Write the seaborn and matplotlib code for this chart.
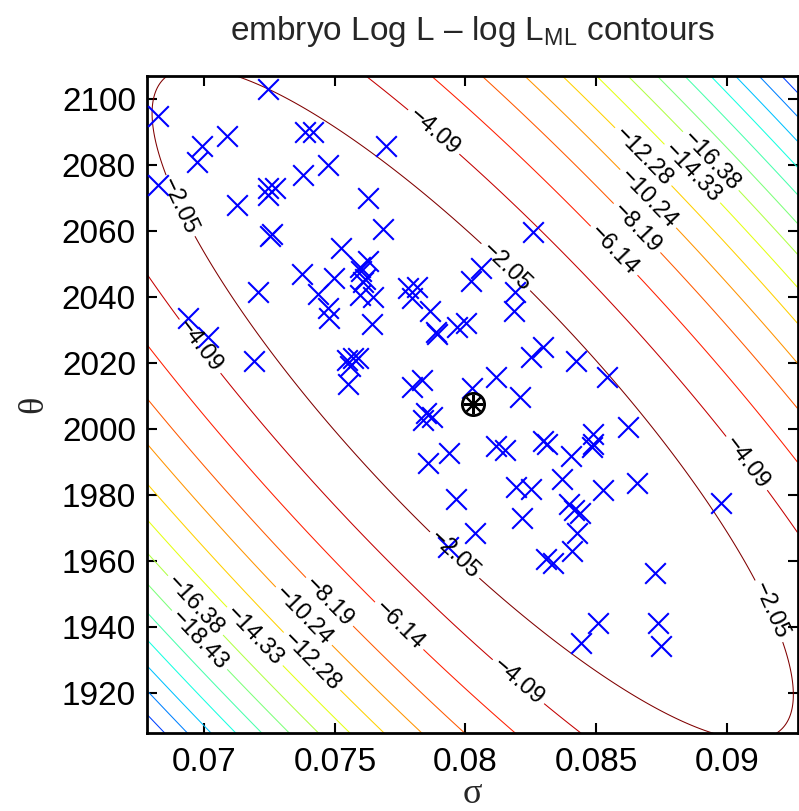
import numpy as np
import matplotlib
matplotlib.use('Agg')
import matplotlib.pyplot as plt
import seaborn as sns

sigma_pts = [0.06824, 0.07245, 0.07088, 0.06990, 0.06973, 0.07386, 0.07417, 0.07472, 0.07377, 0.06822,
             0.07245, 0.07271, 0.07243, 0.07124, 0.07258, 0.07252, 0.07523, 0.07375, 0.07497, 0.07628,
             0.07596, 0.07600, 0.07615, 0.07609, 0.07696, 0.07628, 0.07683, 0.08257, 0.08058, 0.08020,
             0.07781, 0.07814, 0.07794, 0.08190, 0.08186, 0.07207, 0.07436, 0.07596, 0.07647, 0.07472,
             0.07479, 0.06936, 0.07015, 0.07191, 0.07545, 0.07570, 0.07590, 0.07558, 0.07551, 0.07864,
             0.07641, 0.07887, 0.07890, 0.07969, 0.08002, 0.08298, 0.08250, 0.08423, 0.07832, 0.07794,
             0.08117, 0.08024, 0.08209, 0.07837, 0.07872, 0.07849, 0.08117, 0.08151, 0.08298, 0.08311,
             0.08404, 0.07938, 0.07855, 0.08368, 0.08193, 0.08251, 0.07962, 0.08396, 0.08415, 0.08216,
             0.08541, 0.08621, 0.08489, 0.08489, 0.08483, 0.08658, 0.08525, 0.08438, 0.08427, 0.08408,
             0.08308, 0.08334, 0.08036, 0.07934, 0.08725, 0.08508, 0.08736, 0.08442, 0.08749, 0.08977]
theta_pts = [2094.8, 2102.8, 2088.7, 2085.7, 2080.7, 2090.0, 2090.0, 2079.9, 2076.8, 2073.8,
             2072.8, 2072.8, 2070.8, 2067.8, 2059.0, 2058.4, 2054.8, 2046.8, 2045.8, 2050.9,
             2049.1, 2047.8, 2045.3, 2044.5, 2085.6, 2069.8, 2060.4, 2059.7, 2048.8, 2044.8,
             2042.7, 2042.9, 2039.5, 2041.5, 2035.8, 2041.3, 2040.8, 2040.5, 2039.8, 2036.5,
             2033.6, 2033.5, 2027.7, 2020.6, 2020.9, 2021.4, 2021.4, 2019.1, 2013.5, 2035.7,
             2031.7, 2029.4, 2028.6, 2031.0, 2032.0, 2024.7, 2021.7, 2020.7, 2014.8, 2012.6,
             2015.6, 2012.3, 2009.8, 2002.7, 2003.6, 2004.8, 1994.9, 1993.6, 1996.5, 1995.5,
             1991.8, 1992.6, 1989.6, 1984.8, 1982.5, 1981.8, 1978.7, 1977.3, 1975.5, 1973.1,
             2015.6, 2000.7, 1998.5, 1995.5, 1994.6, 1983.6, 1981.5, 1974.6, 1968.5, 1963.1,
             1960.6, 1959.4, 1968.4, 1964.4, 1956.5, 1941.4, 1941.4, 1935.3, 1934.3, 1977.7]

# maximum likelihood estimate and quadratic curvature of log L around it
sigma_ml = 0.080276
theta_ml = 2007.56
sigma_unit = 0.005
theta_unit = 20.0
curv = [[1.3542, 0.5663], [0.5663, 0.3161]]

level_step = 2.0474
n_levels = 17
n_labeled = 9

xlim = (0.067806, 0.092711)
ylim = (1907.9, 2106.9)
xticks = [0.07, 0.075, 0.08, 0.085, 0.09]
xticklabels = ['0.07', '0.075', '0.08', '0.085', '0.09']
yticks = [1920, 1940, 1960, 1980, 2000, 2020, 2040, 2060, 2080, 2100]

# where the contour labels sit
label_pos = [(0.078756, 2089.6), (0.081436, 2048.1), (0.068993, 2067.2), (0.069900, 2025.4),
             (0.086796, 2082.3), (0.087064, 2070.2), (0.086489, 2060.2), (0.085723, 2054.2),
             (0.089437, 2081.4), (0.088711, 2077.5), (0.090766, 1989.6), (0.091723, 1945.2),
             (0.079533, 1961.4), (0.077557, 1941.2), (0.082087, 1924.1), (0.074939, 1948.8),
             (0.073855, 1943.7), (0.074303, 1931.1), (0.072132, 1938.7), (0.069962, 1948.8),
             (0.070092, 1938.2)]

sns.set_theme(style='ticks')
plt.rcParams['font.family'] = ['Liberation Sans', 'DejaVu Sans']
plt.rcParams['mathtext.fontset'] = 'custom'
plt.rcParams['mathtext.rm'] = 'Liberation Sans'
plt.rcParams['mathtext.it'] = 'Liberation Sans'

fig = plt.figure(figsize=(7.99, 8.11), dpi=100)
ax = fig.add_axes([147 / 799, (811 - 733.3) / 811, (797.5 - 147) / 799, (733.3 - 75.7) / 811])

s = np.linspace(xlim[0], xlim[1], 500)
t = np.linspace(ylim[0], ylim[1], 500)
S, T = np.meshgrid(s, t)
U = (S - sigma_ml) / sigma_unit
V = (T - theta_ml) / theta_unit
F = -(curv[0][0] * U**2 + 2 * curv[0][1] * U * V + curv[1][1] * V**2)

levels = -level_step * np.arange(n_levels, 0, -1)
vmin, vmax = levels[0], levels[-1]
# outer (unlabelled) contours and inner labelled ones share the same colour scale
ax.contour(S, T, F, levels=levels[:-n_labeled], cmap='jet', vmin=vmin, vmax=vmax,
           linewidths=0.75)
cs = ax.contour(S, T, F, levels=levels[-n_labeled:], cmap='jet', vmin=vmin, vmax=vmax,
                linewidths=0.75)
ax.clabel(cs, manual=label_pos, inline=True, inline_spacing=4,
          fontsize=17, colors='black', fmt=lambda v: '\u2212%.2f' % abs(v))

sns.scatterplot(x=sigma_pts, y=theta_pts, marker='x', s=220, color='blue',
                linewidth=1.5, ax=ax, zorder=3)
ax.plot(sigma_ml, theta_ml, 'o', mfc='none', mec='black', ms=16, mew=2, zorder=4)
ax.plot(sigma_ml, theta_ml, marker=(8, 2, 0), color='black', ms=14, mew=1.5, zorder=4)

ax.set_xlim(*xlim)
ax.set_ylim(*ylim)
ax.set_xticks(xticks)
ax.set_xticklabels(xticklabels)
ax.set_yticks(yticks)
ax.tick_params(direction='in', top=True, right=True, length=7, width=1.5,
               labelsize=24, colors='black')
ax.tick_params(axis='x', pad=10)
ax.tick_params(axis='y', pad=8)
for sp in ax.spines.values():
    sp.set_linewidth(2)
    sp.set_color('black')

ax.set_xlabel('\u03c3', fontsize=26, family='Liberation Serif', labelpad=0)
ax.set_ylabel('\u03b8', fontsize=26, family='Liberation Serif', labelpad=8)
ax.set_title('embryo Log L \u2013 log L$_{\\mathrm{ML}}$ contours', fontsize=24, pad=26)

fig.savefig('out.png', dpi=100)
